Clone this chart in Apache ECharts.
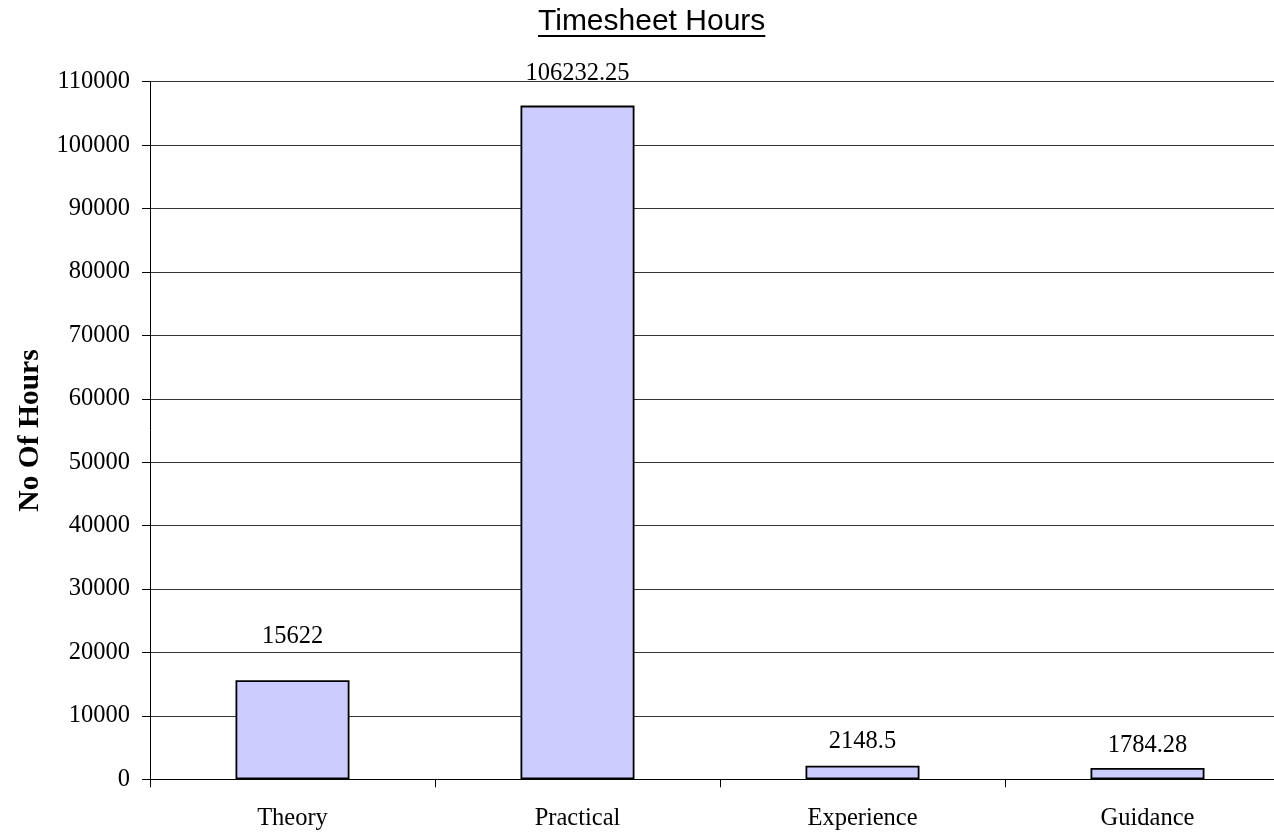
<!DOCTYPE html>
<html>
<head>
<meta charset="utf-8">
<script src="https://cdn.jsdelivr.net/npm/echarts@6/dist/echarts.min.js"></script>
<style>
html,body{margin:0;padding:0;background:#fff;overflow:hidden;width:1274px;height:833px;}
#chart{width:1290px;height:833px;}
</style>
</head>
<body>
<div id="chart"></div>
<script>
var categories = ['Theory', 'Practical', 'Experience', 'Guidance'];
var hours = [15622, 106232.25, 2148.5, 1784.28];
var valueLabels = ['15622', '106232.25', '2148.5', '1784.28'];
var titleText = 'Timesheet Hours';
var yAxisTitle = 'No Of Hours';

// label distances above bars (style, not data)
var labelGaps = [31, 20, 12, 10];

var serif = '"Liberation Serif", "Times New Roman", serif';
var sans = '"Liberation Sans", Arial, sans-serif';

var titleFont = 30;
var cv = document.createElement('canvas').getContext('2d');
cv.font = titleFont + 'px "Liberation Sans"';
var titleW = cv.measureText(titleText).width;
var titleLeft = 538;

var chart = echarts.init(document.getElementById('chart'), null, {renderer: 'canvas'});
var option = {
  backgroundColor: '#ffffff',
  animation: false,
  title: {
    text: titleText,
    left: titleLeft,
    top: 7,
    padding: 0,
    textStyle: {fontFamily: sans, fontSize: titleFont, fontWeight: 'normal', color: '#000'}
  },
  graphic: [{
    type: 'rect',
    shape: {x: titleLeft, y: 35, width: titleW, height: 2},
    style: {fill: '#000'},
    silent: true
  }],
  grid: {left: 150, top: 81.7, right: 0, height: 697.6, containLabel: false},
  xAxis: {
    type: 'category',
    data: categories,
    axisLine: {show: true, lineStyle: {color: '#000', width: 1}},
    axisTick: {show: true, length: 8, lineStyle: {color: '#000'}},
    axisLabel: {fontFamily: serif, fontSize: 24.5, color: '#000', margin: 27},
    splitLine: {show: false}
  },
  yAxis: {
    type: 'value',
    min: 0, max: 110000, interval: 10000,
    name: yAxisTitle,
    nameLocation: 'middle',
    nameGap: 105,
    nameRotate: 90,
    nameTextStyle: {fontFamily: serif, fontSize: 29.5, fontWeight: 'bold', color: '#000'},
    axisLine: {show: true, lineStyle: {color: '#000', width: 1}},
    axisTick: {show: true, length: 8, lineStyle: {color: '#000'}},
    axisLabel: {
      fontFamily: serif, fontSize: 24.5, color: '#000', margin: 20,
      formatter: function (v) { return String(v); }
    },
    splitLine: {show: true, lineStyle: {color: '#333', width: 1}}
  },
  series: [{
    type: 'bar',
    barWidth: '40%',
    data: hours.map(function (v, i) {
      return {
        value: v,
        label: {distance: labelGaps[i]}
      };
    }),
    itemStyle: {color: '#ccccff', borderColor: '#000', borderWidth: 1.8},
    label: {
      show: true,
      position: 'top',
      fontFamily: serif,
      fontSize: 24.5,
      color: '#000',
      formatter: function (p) { return valueLabels[p.dataIndex]; }
    }
  }]
};
chart.setOption(option);
</script>
</body>
</html>
